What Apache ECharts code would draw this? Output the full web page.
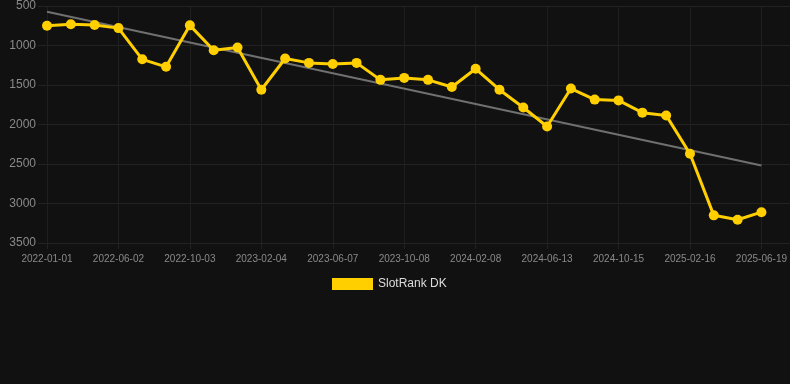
<!DOCTYPE html>
<html>
<head>
<meta charset="utf-8">
<script src="https://cdn.jsdelivr.net/npm/echarts@6/dist/echarts.min.js"></script>
<style>
  html, body { margin: 0; padding: 0; background: #111111; }
  #rank_chart { width: 790px; height: 384px; }
</style>
</head>
<body>
<div id="rank_chart"></div>
<script>
// dates of each rank sample (only every 3rd is labelled)
var dates = [
    '2022-01-01', '2022-02-20', '2022-04-11', '2022-06-02', '2022-07-13', '2022-08-23',
    '2022-10-03', '2022-11-13', '2022-12-24', '2023-02-04', '2023-03-18', '2023-04-27',
    '2023-06-07', '2023-07-18', '2023-08-28', '2023-10-08', '2023-11-18', '2023-12-29',
    '2024-02-08', '2024-03-20', '2024-05-02', '2024-06-13', '2024-07-25', '2024-09-03',
    '2024-10-15', '2024-11-25', '2025-01-05', '2025-02-16', '2025-03-29', '2025-05-09',
    '2025-06-19'
];

// rank values
var rank_dk = [
    750, 730, 740, 780, 1175, 1270,
    745, 1060, 1025, 1560, 1165, 1220,
    1235, 1220, 1435, 1410, 1435, 1525,
    1295, 1560, 1785, 2025, 1545, 1685,
    1695, 1850, 1885, 2370, 3150, 3205,
    3110
];

// trend line ends (first / last date)
var trend_ends = [572, 2520];

var y_ticks = [500, 1000, 1500, 2000, 2500, 3000, 3500];

var fontFam = 'Liberation Sans, Arial, sans-serif';

let rank_option = {
    backgroundColor: '#111111',
    animation: false,
    legend: {
        data: ['SlotRank DK'],
        left: 327,
        top: 273,
        icon: 'rect',
        itemWidth: 41,
        itemHeight: 12,
        itemGap: 10,
        textStyle: {
            color: '#dddddd',
            fontSize: 12,
            fontFamily: fontFam
        }
    },
    grid: [
        // wide grid: only y labels and horizontal lines
        { left: 38, right: 0, top: 6, bottom: 141 },
        // data grid
        { left: 47, right: 28, top: 6, bottom: 141 }
    ],
    xAxis: [
        {
            gridIndex: 0,
            type: 'value',
            min: 0,
            max: 1,
            show: false
        },
        {
            gridIndex: 1,
            type: 'category',
            boundaryGap: false,
            data: dates,
            axisLine: { show: false },
            axisTick: {
                show: true,
                interval: 2,
                length: 6,
                lineStyle: { color: '#222222' }
            },
            axisLabel: {
                interval: 2,
                color: '#8a8a8a',
                fontSize: 10,
                margin: 11,
                fontFamily: fontFam
            },
            splitLine: {
                show: true,
                interval: 2,
                lineStyle: { color: '#1f1f1f', width: 1 }
            }
        }
    ],
    yAxis: [
        {
            gridIndex: 0,
            type: 'value',
            inverse: true,
            min: y_ticks[0],
            max: y_ticks[y_ticks.length - 1],
            interval: 500,
            axisLine: { show: false },
            axisTick: { show: false },
            axisLabel: {
                color: '#8a8a8a',
                fontSize: 12,
                margin: 2,
                fontFamily: fontFam,
                formatter: function (v) { return String(v); }
            },
            splitLine: {
                lineStyle: { color: '#222222', width: 1 }
            }
        },
        {
            gridIndex: 1,
            type: 'value',
            inverse: true,
            min: y_ticks[0],
            max: y_ticks[y_ticks.length - 1],
            interval: 500,
            show: false,
            splitLine: { show: false }
        }
    ],
    series: [
        {
            name: 'trend',
            type: 'line',
            xAxisIndex: 1,
            yAxisIndex: 1,
            data: [[dates[0], trend_ends[0]], [dates[dates.length - 1], trend_ends[1]]],
            symbol: 'none',
            silent: true,
            lineStyle: { color: '#707070', width: 2 },
            z: 2
        },
        {
            name: 'SlotRank DK',
            type: 'line',
            xAxisIndex: 1,
            yAxisIndex: 1,
            data: rank_dk,
            symbol: 'circle',
            symbolSize: 10,
            itemStyle: { color: '#ffcf00' },
            lineStyle: { color: '#ffcf00', width: 3 },
            z: 3
        }
    ]
};

var rank_chart = echarts.init(document.getElementById('rank_chart'));
rank_chart.setOption(rank_option);
</script>
</body>
</html>
